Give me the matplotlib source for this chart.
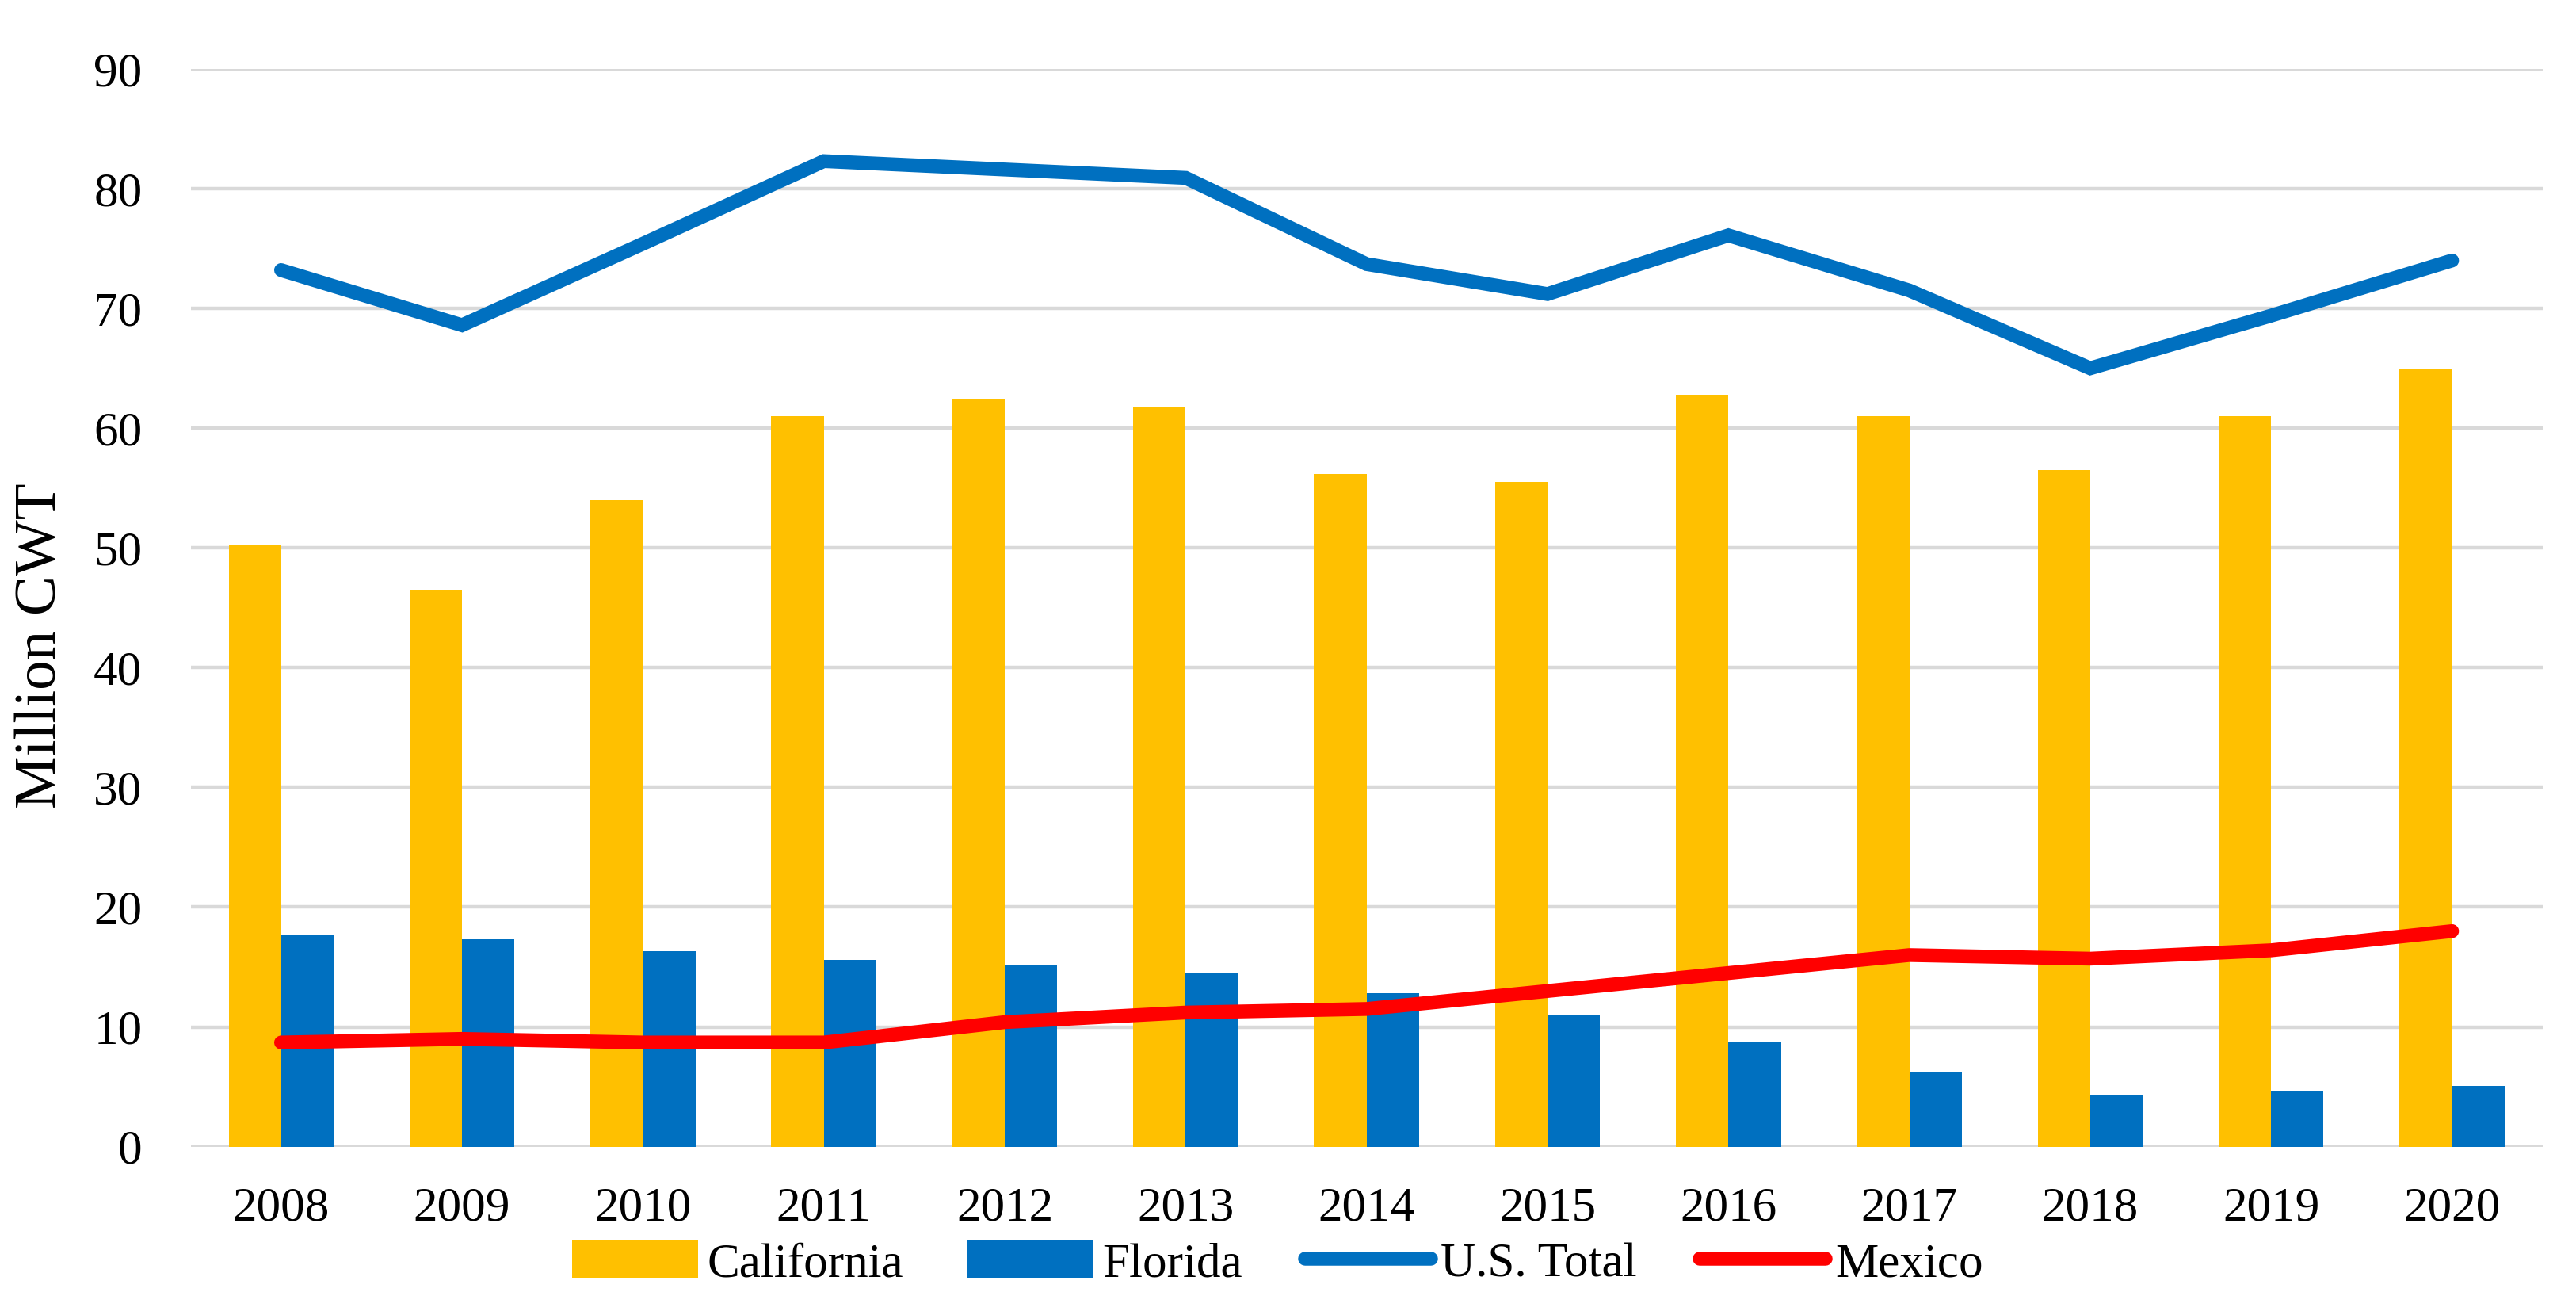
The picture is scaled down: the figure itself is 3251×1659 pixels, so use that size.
import numpy as np
import matplotlib
matplotlib.use("Agg")
import matplotlib.pyplot as plt

years = ["2008", "2009", "2010", "2011", "2012", "2013", "2014",
         "2015", "2016", "2017", "2018", "2019", "2020"]
california = [50.2, 46.5, 54.0, 61.0, 62.4, 61.7, 56.2, 55.5, 62.8, 61.0, 56.5, 61.0, 64.9]
florida = [17.7, 17.3, 16.3, 15.6, 15.2, 14.5, 12.8, 11.0, 8.7, 6.2, 4.3, 4.6, 5.1]
us_total = [73.2, 68.6, 75.4, 82.3, 81.6, 80.9, 73.7, 71.2, 76.1, 71.5, 65.0, 69.4, 74.0]
mexico = [8.7, 9.0, 8.7, 8.7, 10.4, 11.2, 11.5, 13.0, 14.5, 16.0, 15.7, 16.4, 18.0]

plt.rcParams["font.family"] = ["Liberation Serif", "DejaVu Serif"]

fig = plt.figure(figsize=(16.255, 8.295), dpi=200)
ax = fig.add_axes([0.074, 0.128, 0.913, 0.8196])

x = np.arange(len(years))
w = 0.29
b1 = ax.bar(x - w / 2, california, w, color="#FFC000", label="California", zorder=2)
b2 = ax.bar(x + w / 2, florida, w, color="#0070C0", label="Florida", zorder=2)
l1, = ax.plot(x, us_total, color="#0070C0", lw=6.3, label="U.S. Total", zorder=3,
              solid_capstyle="round", solid_joinstyle="miter")
l2, = ax.plot(x, mexico, color="#FF0000", lw=6.3, label="Mexico", zorder=3,
              solid_capstyle="round")

ax.set_xlim(-0.5, 12.5)
ax.set_ylim(0, 90)
ax.set_yticks(range(0, 91, 10))
ax.set_xticks(x)
ax.set_xticklabels(years)
ax.yaxis.grid(True, color="#D9D9D9", lw=1.6, zorder=0)
ax.set_axisbelow(True)
for s in ax.spines.values():
    s.set_visible(False)
ax.tick_params(axis="both", length=0, labelsize=22, colors="black")
ax.tick_params(axis="x", pad=18)
ax.tick_params(axis="y", pad=22)
ax.set_ylabel("Million CWT", fontsize=27)
ax.yaxis.set_label_coords(-0.052, 0.465)

fig.legend([b1, b2, l1, l2], ["California", "Florida", "U.S. Total", "Mexico"],
           loc="center", bbox_to_anchor=(0.496, 0.039), ncol=4, frameon=False,
           fontsize=22, handlelength=2.6, handleheight=0.8, handletextpad=0.2,
           columnspacing=1.3)

fig.savefig("out.png", dpi=200)
